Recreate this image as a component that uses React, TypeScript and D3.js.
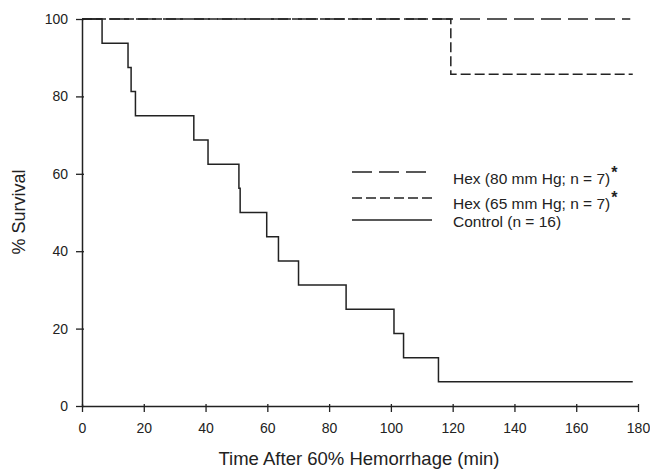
import React, { useEffect, useRef } from 'react';
import * as d3 from 'd3';

// Kaplan-Meier steps: [time (min), % survival]
const controlSteps: [number, number][] = [
  [0, 100], [6.5, 93.75], [14.9, 87.5], [15.9, 81.25], [17.3, 75],
  [36.2, 68.75], [40.8, 62.5], [50.8, 56.25], [51.2, 50], [59.8, 43.75],
  [63.6, 37.5], [70.1, 31.25], [85.5, 25], [101, 18.75], [104.1, 12.5],
  [115.4, 6.25], [178.3, 6.25],
];
const hex65Steps: [number, number][] = [[0, 100], [119.4, 85.7], [178.3, 85.7]];
const hex80Steps: [number, number][] = [[0, 100], [177.5, 100]];

const xTicks = [0, 20, 40, 60, 80, 100, 120, 140, 160, 180];
const yTicks = [0, 20, 40, 60, 80, 100];

const legendItems = [
  { label: 'Hex (80 mm Hg; n = 7)', star: true, dash: '20,7' },
  { label: 'Hex (65 mm Hg; n = 7)', star: true, dash: '10,4' },
  { label: 'Control (n = 16)', star: false, dash: null },
];

const App = () => {
  const ref = useRef<SVGSVGElement>(null);

  useEffect(() => {
    if (!ref.current) return;
    const svg = d3.select(ref.current);
    svg.selectAll('*').remove();

    const font = 'Liberation Sans, Arial, sans-serif';
    const ink = '#222';

    const x = d3.scaleLinear().domain([0, 180]).range([82, 638]);
    const y = d3.scaleLinear().domain([0, 100]).range([406, 19]);

    const xAxis = svg.append('g')
      .attr('transform', `translate(0, ${y(0)})`)
      .call(d3.axisBottom(x).tickValues(xTicks).tickSize(6).tickPadding(11).tickSizeOuter(0));
    const yAxis = svg.append('g')
      .attr('transform', `translate(${x(0)}, 0)`)
      .call(d3.axisLeft(y).tickValues(yTicks).tickSize(6).tickPadding(8).tickSizeOuter(0));

    [xAxis, yAxis].forEach(ax => {
      ax.select('.domain').attr('stroke', ink).attr('stroke-width', 1.5);
      ax.selectAll('.tick line').attr('stroke', ink).attr('stroke-width', 1.3);
      ax.selectAll('.tick text')
        .attr('fill', ink)
        .style('font-family', font)
        .style('font-size', '14px');
    });
    xAxis.selectAll('.tick line').attr('y1', -2).attr('y2', 6);
    yAxis.selectAll('.tick line').attr('x1', 2).attr('x2', -6);

    const line = d3.line<[number, number]>()
      .x(d => x(d[0]))
      .y(d => y(d[1]))
      .curve(d3.curveStepAfter);

    svg.append('path')
      .datum(hex80Steps)
      .attr('d', line)
      .attr('fill', 'none')
      .attr('stroke', ink)
      .attr('stroke-width', 1.5)
      .attr('stroke-dasharray', '20,7');

    svg.append('path')
      .datum(hex65Steps)
      .attr('d', line)
      .attr('fill', 'none')
      .attr('stroke', ink)
      .attr('stroke-width', 1.5)
      .attr('stroke-dasharray', '10,4');

    svg.append('path')
      .datum(controlSteps)
      .attr('d', line)
      .attr('fill', 'none')
      .attr('stroke', ink)
      .attr('stroke-width', 1.5);

    // legend
    const rowY = [172, 198, 220];
    const textY = [184, 209, 227];
    const legend = svg.append('g');
    legendItems.forEach((item, i) => {
      const l = legend.append('line')
        .attr('x1', 352).attr('x2', 432)
        .attr('y1', rowY[i]).attr('y2', rowY[i])
        .attr('stroke', ink).attr('stroke-width', 1.5);
      if (item.dash) l.attr('stroke-dasharray', item.dash);
      const t = legend.append('text')
        .attr('x', 453).attr('y', textY[i])
        .attr('fill', ink)
        .style('font-family', font)
        .style('font-size', '15.5px')
        .text(item.label);
      if (item.star) {
        t.append('tspan')
          .attr('dy', -6)
          .attr('dx', 1)
          .style('font-weight', 'bold')
          .style('font-size', '16px')
          .text('*');
      }
    });

    svg.append('text')
      .attr('x', 359).attr('y', 465)
      .attr('text-anchor', 'middle')
      .attr('fill', ink)
      .style('font-family', font)
      .style('font-size', '18.5px')
      .text('Time After 60% Hemorrhage (min)');

    svg.append('text')
      .attr('transform', 'translate(25, 212) rotate(-90)')
      .attr('text-anchor', 'middle')
      .attr('fill', ink)
      .style('font-family', font)
      .style('font-size', '18px')
      .text('% Survival');
  }, []);

  return (
    <svg
      ref={ref}
      width={650}
      height={469}
      style={{ position: 'absolute', left: 0, top: 0, background: '#fff' }}
    />
  );
};

export default App;
